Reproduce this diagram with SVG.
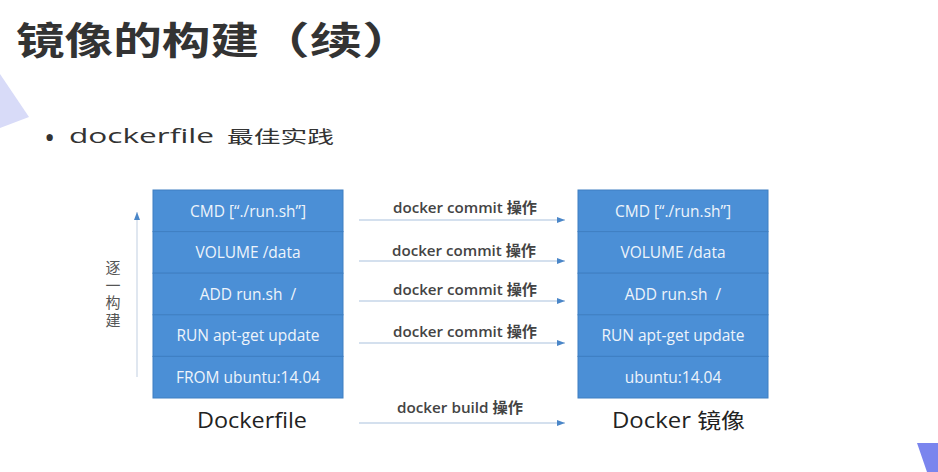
<svg xmlns="http://www.w3.org/2000/svg" width="938" height="472" viewBox="0 0 938 472">
<defs>
<style>
.blk{fill:#4b8fd6;stroke:#3f7fc2;stroke-width:1}
.bt{font-family:"Open Sans","Liberation Sans",sans-serif;font-size:15.5px;fill:#eef4fb;text-anchor:middle}
.lbl{font-family:"Open Sans","Noto Sans CJK SC",sans-serif;font-size:15px;font-weight:600;fill:#444}
.cap{font-family:"Open Sans","Noto Sans CJK SC",sans-serif;font-size:21px;fill:#222}
.conn{stroke:#a9c1de;stroke-width:1.2;fill:none;marker-end:url(#ah)}
</style>
<marker id="ah" viewBox="0 0 8 6" refX="8" refY="3" markerWidth="8" markerHeight="6" markerUnits="userSpaceOnUse" orient="auto">
<path d="M0,0 L8,3 L0,6 z" fill="#4a86c8"/>
</marker>
</defs>
<rect width="938" height="472" fill="#ffffff"/>
<polygon points="0,74 29,117 0,128" fill="#d8dbf8"/>
<polygon points="917,443 938,443 938,472 927,472" fill="#7a85ee"/>

<text x="16" y="54" font-family="'Noto Sans CJK SC',sans-serif" font-size="38" font-weight="bold" fill="#333" textLength="243" lengthAdjust="spacingAndGlyphs">镜像的构建</text>
<text x="257" y="54" font-family="'Noto Sans CJK SC',sans-serif" font-size="38" font-weight="bold" fill="#333" textLength="158" lengthAdjust="spacingAndGlyphs">（续）</text>

<text x="44" y="148" font-family="'Open Sans',sans-serif" font-size="30" fill="#333">•</text>
<text x="69" y="143" font-family="'Open Sans',sans-serif" font-size="20" fill="#333" textLength="145" lengthAdjust="spacingAndGlyphs">dockerfile</text>
<text x="227" y="143" font-family="'Noto Sans CJK SC',sans-serif" font-size="17" fill="#333" textLength="107" lengthAdjust="spacingAndGlyphs">最佳实践</text>

<g id="dockerfile">
<rect class="blk" x="153" y="190" width="190" height="41.6"/>
<rect class="blk" x="153" y="231.6" width="190" height="41.6"/>
<rect class="blk" x="153" y="273.2" width="190" height="41.6"/>
<rect class="blk" x="153" y="314.8" width="190" height="41.6"/>
<rect class="blk" x="153" y="356.4" width="190" height="41.6"/>
<text class="bt" x="248" y="216.5">CMD [“./run.sh”]</text>
<text class="bt" x="248" y="258">VOLUME /data</text>
<text class="bt" x="248" y="299.5">ADD run.sh&#160;&#160;/</text>
<text class="bt" x="248" y="341">RUN apt-get update</text>
<text class="bt" x="248" y="382.5">FROM ubuntu:14.04</text>
<text class="cap" x="197" y="428" textLength="110" lengthAdjust="spacingAndGlyphs">Dockerfile</text>
</g>

<g id="docker-image">
<rect class="blk" x="578" y="190" width="190" height="41.6"/>
<rect class="blk" x="578" y="231.6" width="190" height="41.6"/>
<rect class="blk" x="578" y="273.2" width="190" height="41.6"/>
<rect class="blk" x="578" y="314.8" width="190" height="41.6"/>
<rect class="blk" x="578" y="356.4" width="190" height="41.6"/>
<text class="bt" x="673" y="216.5">CMD [“./run.sh”]</text>
<text class="bt" x="673" y="258">VOLUME /data</text>
<text class="bt" x="673" y="299.5">ADD run.sh&#160;&#160;/</text>
<text class="bt" x="673" y="341">RUN apt-get update</text>
<text class="bt" x="673" y="382.5">ubuntu:14.04</text>
<text class="cap" x="612" y="428" textLength="133" lengthAdjust="spacingAndGlyphs">Docker 镜像</text>
</g>

<g id="build-order">
<line x1="137" y1="377" x2="137" y2="212" stroke="#cbd7e6" stroke-width="1.2" marker-end="url(#ah)"/>
<text x="113" y="260" writing-mode="vertical-rl" letter-spacing="2.5" font-family="'Noto Sans CJK SC',sans-serif" font-size="15" fill="#555">逐一构建</text>
</g>

<g id="connectors">
<line class="conn" x1="359" y1="220" x2="565" y2="220"/>
<line class="conn" x1="359" y1="261" x2="565" y2="261"/>
<line class="conn" x1="359" y1="301" x2="565" y2="301"/>
<line class="conn" x1="359" y1="343" x2="565" y2="343"/>
<line class="conn" x1="359" y1="423" x2="565" y2="423"/>
<text class="lbl" x="393" y="213" textLength="144" lengthAdjust="spacingAndGlyphs">docker commit 操作</text>
<text class="lbl" x="392" y="256" textLength="144" lengthAdjust="spacingAndGlyphs">docker commit 操作</text>
<text class="lbl" x="393" y="295" textLength="144" lengthAdjust="spacingAndGlyphs">docker commit 操作</text>
<text class="lbl" x="393" y="337" textLength="144" lengthAdjust="spacingAndGlyphs">docker commit 操作</text>
<text class="lbl" x="397" y="413" textLength="126" lengthAdjust="spacingAndGlyphs">docker build 操作</text>
</g>
</svg>
